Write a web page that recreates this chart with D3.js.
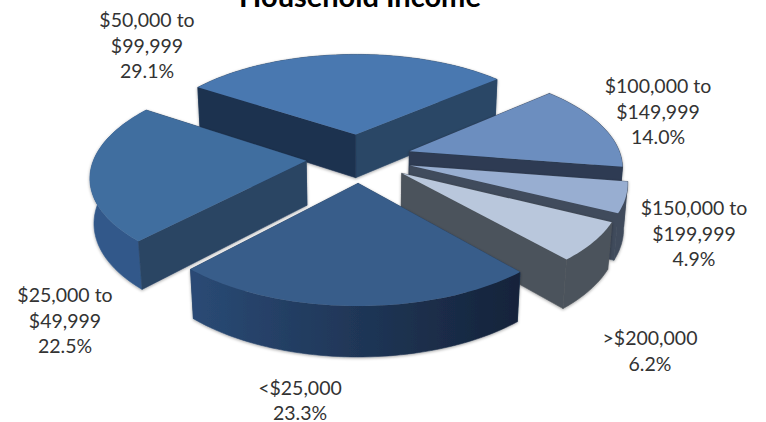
<!DOCTYPE html>
<html>
<head>
<meta charset="utf-8">
<script src="https://cdn.jsdelivr.net/npm/d3@7"></script>
<style>
html, body { margin: 0; padding: 0; background: #fff; }
svg { display: block; }
text { font-family: Lato, "Open Sans", sans-serif; fill: #333; }
</style>
</head>
<body>
<svg></svg>
<script>
var title = "Household Income";
var categories = ["<$25,000", "$25,000 to $49,999", "$50,000 to $99,999", "$100,000 to $149,999", "$150,000 to $199,999", ">$200,000"];
var shares = [23.3, 22.5, 29.1, 14.0, 4.9, 6.2];

// colours per slice: top, outer wall start and end, radial walls
var topColors = ["#385d8a", "#416e9f", "#4a78b0", "#6c8ebf", "#98aed1", "#b9c7dc"];
var wallColors = [["#2a4a75", "#15233a"], ["#32598a", "#2f5a88"], ["#2a4666", "#2a4666"], ["#2d3b52", "#2d3b52"], ["#404b5c", "#404b5c"], ["#4c535b", "#4c535b"]];
var radialColors = [["#2a4464", "#2a4464"], ["#2a4464", "#2a4464"], ["#2a4666", "#1f3350"], ["#2d3b52", "#2d3b52"], ["#404b5c", "#404b5c"], ["#4c535b", "#4c535b"]];
// label anchor: centre x, first baseline y
var labelAt = [[300, 394.5], [65, 302], [147, 27], [658, 93], [694, 215], [650, 345]];

var width = 766, height = 422;
var svg = d3.select("svg").attr("width", width).attr("height", height).attr("viewBox", [0, 0, width, height]);

// perspective of the ground plane
var cx = 359, cy = 158, persp = 0.141, depth = 0.015, wallH = 45, explode = 0.25;
var xScale = d3.scaleLinear().domain([-1, 1]).range([-212, 212]);
var zScale = d3.scaleLinear().domain([-1, 1]).range([-97.5, 97.5]);

function project(X, Z, h) {
    var w = 1 - persp * Z + depth * h;
    return [cx + xScale(X) / w, cy + (zScale(Z) + wallH * h) / w];
}

var startDeg = 139;
var pie = d3.pie().sort(null).value(d => d)
    .startAngle(startDeg * Math.PI / 180)
    .endAngle((startDeg + 360) * Math.PI / 180);
var arcs = pie(shares);

var line = d3.line();

arcs.forEach((a, i) => {
    var mid = (a.startAngle + a.endAngle) / 2;
    a.i = i;
    a.ox = Math.sin(mid) * explode;
    a.oz = -Math.cos(mid) * explode;
    var n = Math.ceil((a.endAngle - a.startAngle) * 40);
    a.rim = d3.range(n + 1).map(k => {
        var t = a.startAngle + (a.endAngle - a.startAngle) * k / n;
        return [a.ox + Math.sin(t), a.oz - Math.cos(t)];
    });
});

var defs = svg.append("defs");
var shadow = defs.append("filter").attr("id", "shadow")
    .attr("x", "-10%").attr("y", "-10%").attr("width", "120%").attr("height", "125%");
shadow.append("feDropShadow").attr("dx", 0).attr("dy", 1).attr("stdDeviation", 1.6)
    .attr("flood-color", "#000").attr("flood-opacity", 0.35);

arcs.forEach(a => {
    var left = project(a.rim[0][0], a.rim[0][1], 0)[0];
    var right = project(a.rim[a.rim.length - 1][0], a.rim[a.rim.length - 1][1], 0)[0];
    var g = defs.append("linearGradient").attr("id", "wall" + a.i)
        .attr("gradientUnits", "userSpaceOnUse")
        .attr("x1", Math.min(left, right)).attr("x2", Math.max(left, right))
        .attr("y1", 0).attr("y2", 0);
    g.append("stop").attr("offset", 0).attr("stop-color", wallColors[a.i][0]);
    g.append("stop").attr("offset", 1).attr("stop-color", wallColors[a.i][1]);
});

// far slices first
var order = arcs.slice().sort((a, b) => a.oz - b.oz);

var slices = svg.selectAll("g.slice").data(order).join("g")
    .attr("class", "slice")
    .attr("filter", "url(#shadow)");

slices.each(function(a) {
    var g = d3.select(this);
    var apex = [a.ox, a.oz];
    var first = a.rim[0], last = a.rim[a.rim.length - 1];

    var walls = [
        { pts: [apex, first], fill: radialColors[a.i][1] },
        { pts: [apex, last], fill: radialColors[a.i][0] },
        { pts: a.rim, fill: "url(#wall" + a.i + ")" }
    ];
    walls.forEach(w => { w.z = d3.mean(w.pts, p => p[1]); });
    walls.sort((p, q) => p.z - q.z);

    walls.forEach(w => {
        var poly = w.pts.map(p => project(p[0], p[1], 0))
            .concat(w.pts.slice().reverse().map(p => project(p[0], p[1], 1)));
        // stroke hides the seam between two walls of one slice
        g.append("path").attr("d", line(poly) + "Z").attr("fill", w.fill)
            .attr("stroke", w.fill).attr("stroke-width", 0.6);
    });

    var top = [apex].concat(a.rim).map(p => project(p[0], p[1], 0));
    g.append("path").attr("d", line(top) + "Z").attr("fill", topColors[a.i]);
});

svg.append("text")
    .attr("x", 360).attr("y", 7)
    .attr("text-anchor", "middle")
    .attr("font-size", 29).attr("font-weight", 700)
    .style("fill", "#000")
    .text(title);

var labels = svg.selectAll("text.label").data(categories).join("text")
    .attr("class", "label")
    .attr("text-anchor", "middle")
    .attr("font-size", 19.5);

labels.each(function(c, i) {
    var rows = c.replace(" to ", " to\n").split("\n").concat([shares[i].toFixed(1) + "%"]);
    d3.select(this).selectAll("tspan").data(rows).join("tspan")
        .attr("x", labelAt[i][0])
        .attr("y", (r, k) => labelAt[i][1] + k * 25.7)
        .text(r => r);
});
</script>
</body>
</html>
